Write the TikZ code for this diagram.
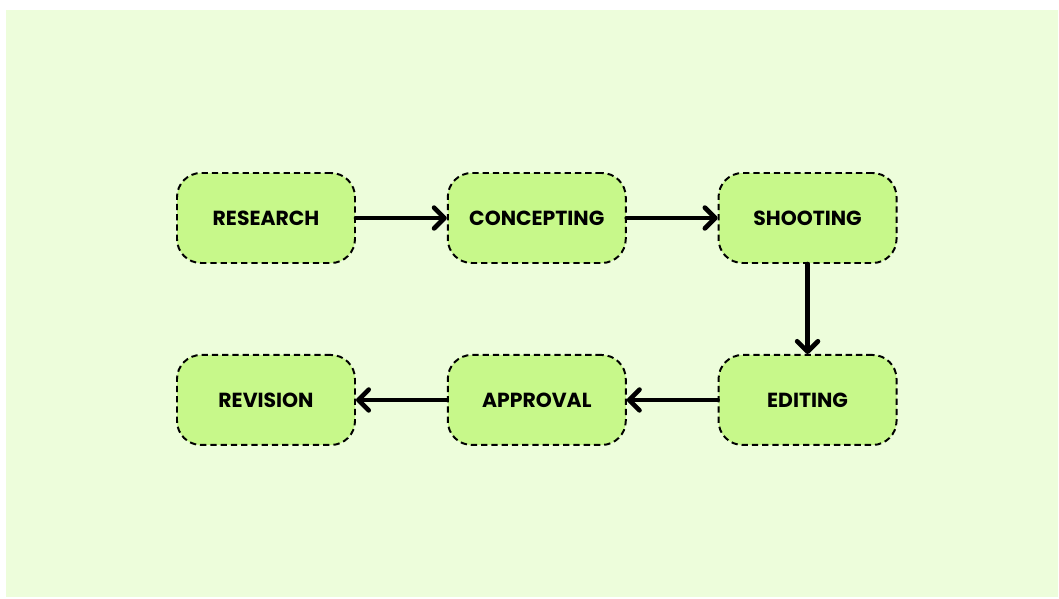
\documentclass[tikz,border=0pt]{standalone}
\usepackage{fontspec}
\setmainfont{Poppins}[UprightFont=* Bold]
\usetikzlibrary{positioning,arrows.meta}

\definecolor{bgGreen}{RGB}{237,253,219}
\definecolor{boxGreen}{RGB}{199,248,138}

\tikzset{
	stage/.style={draw, fill=boxGreen, rounded corners=0.6cm, line width=1.4pt,
		dash pattern=on 4.5pt off 2.8pt, minimum width=4.45cm, minimum height=2.25cm,
		font=\fontsize{14.5}{17}\selectfont, inner sep=0pt},
	flow/.style={line width=3.3pt, -{Straight Barb[length=2.6mm,width=5.2mm,line cap=round,line join=round]}, line cap=round}
}

\begin{document}
\begin{tikzpicture}

	\useasboundingbox (0,0) rectangle (26.475,-14.95);
	
	% Fond
	\fill[bgGreen] (0.15,-0.25) rectangle (26.45,-14.925);
	
	% Premiere ligne
	\node[stage] (research) at (6.65,-5.45) {RESEARCH};
	\node[stage, right=2.27cm of research] (concepting) {CONCEPTING};
	\node[stage, right=2.27cm of concepting] (shooting) {SHOOTING};
	
	% Deuxieme ligne
	\node[stage, below=2.25cm of shooting] (editing) {EDITING};
	\node[stage, left=2.27cm of editing] (approval) {APPROVAL};
	\node[stage, left=2.27cm of approval] (revision) {REVISION};
	
	% Fleches
	\draw[flow] (research) -- (concepting);
	\draw[flow] (concepting) -- (shooting);
	\draw[flow] (shooting) -- (editing);
	\draw[flow] (editing) -- (approval);
	\draw[flow] (approval) -- (revision);

\end{tikzpicture}
\end{document}
